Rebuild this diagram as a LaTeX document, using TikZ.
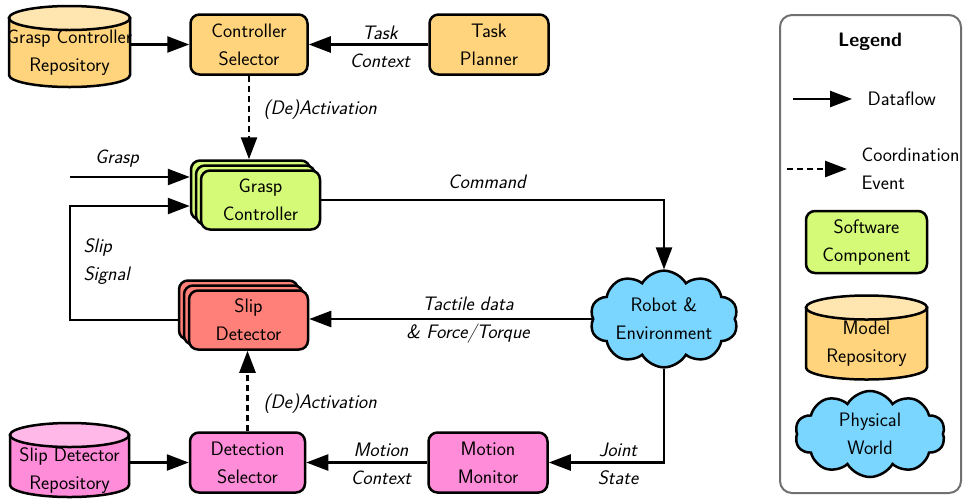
\documentclass[tikz,border=0pt]{standalone}
\usetikzlibrary{shapes.symbols,shadows,arrows.meta,calc}
\definecolor{ctrlorange}{HTML}{FFD47C}
\definecolor{ctrlorangetop}{HTML}{FFE6B0}
\definecolor{swgreen}{HTML}{D4FA78}
\definecolor{slipred}{HTML}{FF8078}
\definecolor{detpink}{HTML}{FF8CD8}
\definecolor{detpinktop}{HTML}{FFB8E8}
\definecolor{worldblue}{HTML}{7AD5FF}
\definecolor{legendgray}{HTML}{707070}
% repository drum drawn inside the bounds of node #1: body colour #2, lid colour #3
\newcommand\drawrepo[3]{%
  \path[fill=#2, draw, line width=2.5pt]
    let \p1=($(#1.east)-(#1.west)$) in
    ($(#1.north west)+(0,12)$) -- ($(#1.south west)+(0,-12)$)
    arc[start angle=180, end angle=360, x radius=0.5*\x1, y radius=12pt]
    -- ($(#1.north east)+(0,12)$) -- cycle;
  \path[fill=#3, draw, line width=2.5pt]
    let \p1=($(#1.east)-(#1.west)$) in
    ($(#1.north)+(0,12)$) ellipse[x radius=0.5*\x1, y radius=12pt];
}
\begin{document}
\begin{tikzpicture}[x=1pt,y=-1pt,
  font=\sffamily\fontsize{19.5}{28}\selectfont,
  comp/.style={rectangle, rounded corners=9pt, draw, line width=2.5pt, align=center, inner sep=0pt},
  repo/.style={rectangle, inner sep=0pt, outer sep=0pt},
  repotext/.style={align=center, inner sep=0pt},
  world/.style={cloud, cloud puffs=10, cloud puff arc=120, aspect=1.8, draw, line width=2.5pt,
    fill=worldblue, align=center, inner sep=0pt},
  flow/.style={line width=2.5pt, -{Triangle[length=22pt,width=16pt]}},
  coordev/.style={flow, dash pattern=on 6pt off 4pt},
  lbl/.style={font=\sffamily\itshape\fontsize{19.5}{28}\selectfont, align=center},
  stack/.style={double copy shadow={shadow xshift=-5pt, shadow yshift=5pt,
    fill=#1, draw=black, line width=2.5pt}}
]
\useasboundingbox (0,0) rectangle (963,499);

% repositories
\node[repo, minimum width=121pt, minimum height=81pt] (gcrepo) at (69.5,46.5) {};
\drawrepo{gcrepo}{ctrlorange}{ctrlorangetop}
\node[repotext] (gcrepotext) at ($(gcrepo.center)+(0,6)$) {Grasp Controller\\Repository};
\node[repo, minimum width=119pt, minimum height=74pt] (sdrepo) at (69.5,460) {};
\drawrepo{sdrepo}{detpink}{detpinktop}
\node[repotext] (sdrepotext) at ($(sdrepo.center)+(0,11)$) {Slip Detector\\Repository};

% components
\node[comp, fill=ctrlorange, minimum width=117pt, minimum height=60pt] (csel) at (249,44.5) {Controller\\Selector};
\node[comp, fill=ctrlorange, minimum width=119pt, minimum height=60pt] (tplan) at (489,44.5) {Task\\Planner};
\node[comp, stack=swgreen, fill=swgreen, minimum width=119pt, minimum height=59pt] (gctrl) at (260.5,200) {Grasp\\Controller};
\node[comp, stack=slipred, fill=slipred, minimum width=119pt, minimum height=59pt] (sdet) at (248.5,320) {Slip\\Detector};
\node[world, minimum width=148pt, minimum height=83pt] (robot) at (664,319) {Robot \&\\Environment};
\node[comp, fill=detpink, minimum width=115pt, minimum height=60pt] (dsel) at (247.5,462.5) {Detection\\Selector};
\node[comp, fill=detpink, minimum width=119pt, minimum height=60pt] (mmon) at (488,462.5) {Motion\\Monitor};

% helper points
\coordinate (graspsrc) at (70,177);
\coordinate (gcleft) at ($(gctrl.west)+(-10,0)$);
\coordinate (slipin) at ($(gctrl.west)+(-10,6)$);
\coordinate (gctop) at ($(gctrl.north)+(-10,-10)$);
\coordinate (sdleft) at ($(sdet.west)+(-10,0)$);

% connectors
\draw[flow] (gcrepo.east |- csel.west) -- (csel.west);
\draw[flow] (tplan.west) -- (csel.east);
\draw[coordev] (csel.south) -- (csel.south |- gctop);
\draw[flow] (graspsrc) -- (graspsrc -| gcleft);
\draw[flow] (sdleft) -| (graspsrc |- slipin) -- (slipin);
\draw[flow] (gctrl.east) -| (robot.north);
\draw[flow] (robot.west) -- (robot.west -| sdet.east);
\draw[coordev] (dsel.north) -- (dsel.north |- sdet.south);
\draw[flow] (robot.south) |- (mmon.east);
\draw[flow] (mmon.west) -- (dsel.east);
\draw[flow] (sdrepo.east |- dsel.west) -- (dsel.west);

% connector labels
\node[lbl] (taskctx) at (380,47) {Task\\Context};
\node[lbl, anchor=west] (deact1) at (260,110) {(De)Activation};
\node[lbl] (grasplbl) at (117,159) {Grasp};
\node[lbl, anchor=west, align=left] (sliplbl) at (80,262) {Slip\\Signal};
\node[lbl] (cmdlbl) at (487,182) {Command};
\node[lbl] (tactlbl) at (468,320) {Tactile data\\\& Force/Torque};
\node[lbl, anchor=west] (deact2) at (260,404) {(De)Activation};
\node[lbl] (motctx) at (381,464) {Motion\\Context};
\node[lbl] (jointlbl) at (618,464) {Joint\\State};

% legend
\node[draw=legendgray, line width=2pt, rounded corners=12pt, minimum width=181pt,
  minimum height=478pt, inner sep=0pt] (legend) at (870.5,254) {};
\node[font=\sffamily\bfseries\fontsize{19.5}{28}\selectfont] (legtitle) at (870,42) {Legend};
\coordinate (dfa) at (793,99);
\coordinate (dfb) at (852,99);
\draw[flow] (dfa) -- (dfb);
\node[anchor=west] (dflbl) at (864,99) {Dataflow};
\coordinate (cea) at (787,169);
\coordinate (ceb) at (847,169);
\draw[coordev] (cea) -- (ceb);
\node[anchor=west, align=left] (celbl) at (858,169) {Coordination\\Event};
\node[comp, fill=swgreen, minimum width=121pt, minimum height=62pt] (legsw) at (866.5,242) {Software\\Component};
\node[repo, minimum width=121pt, minimum height=84pt] (legrepo) at (866.5,337.5) {};
\drawrepo{legrepo}{ctrlorange}{ctrlorangetop}
\node[repotext] (legrepotext) at ($(legrepo.center)+(0,6)$) {Model\\Repository};
\node[world, minimum width=150pt, minimum height=86pt] (legworld) at (870,434) {Physical\\World};
\end{tikzpicture}
\end{document}
